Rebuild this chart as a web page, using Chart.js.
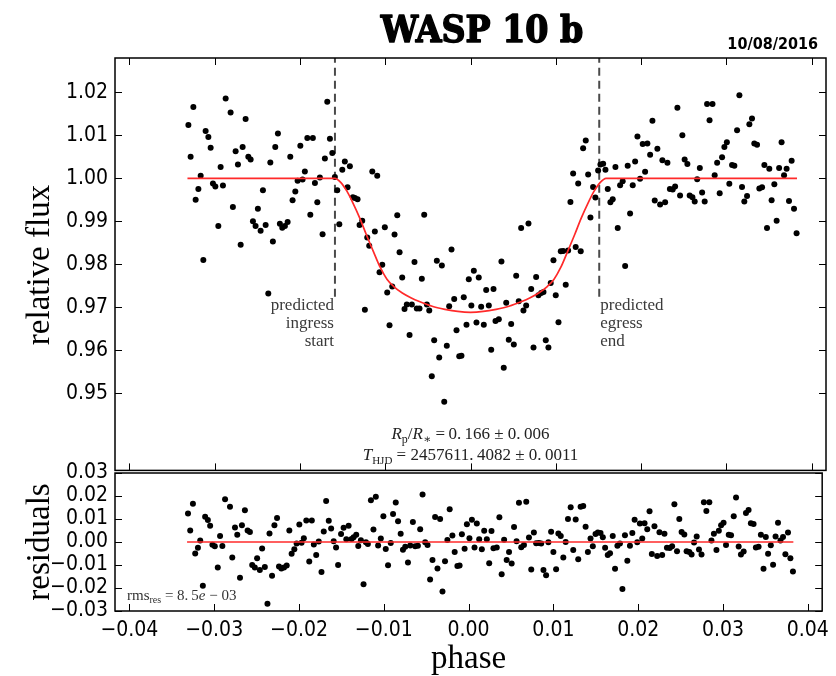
<!DOCTYPE html>
<html>
<head>
<meta charset="utf-8">
<script src="https://cdn.jsdelivr.net/npm/chart.js@4.4.0/dist/chart.umd.min.js"></script>
<style>
  html, body { margin: 0; padding: 0; background: #fff; }
  #wrap { position: relative; width: 836px; height: 676px; overflow: hidden; }
  #fluxChart { position: absolute; left: 0; top: 0; }
  #residChart { position: absolute; left: 0; top: 440px; }
</style>
</head>
<body>
<div id="wrap">
  <canvas id="fluxChart" width="836" height="490"></canvas>
  <canvas id="residChart" width="836" height="236"></canvas>
</div>
<script>
// Daten
const phase = [
  -0.03309, -0.03283, -0.03251, -0.03224, -0.03192, -0.03165, -0.03134, -0.03107, -0.03075, -0.03048,
  -0.03021, -0.02993, -0.02958, -0.02931, -0.02904, -0.02872, -0.02814, -0.02787, -0.02755, -0.02728,
  -0.02696, -0.02673, -0.02638, -0.02606, -0.02579, -0.02552, -0.02521, -0.02494, -0.02462, -0.02435,
  -0.02403, -0.02372, -0.02348, -0.02318, -0.02290, -0.02259, -0.02236, -0.02208, -0.02177, -0.02145,
  -0.02114, -0.02087, -0.02055, -0.02028, -0.01996, -0.01970, -0.01943, -0.01914, -0.01879, -0.01849,
  -0.01825, -0.01797, -0.01767, -0.01735, -0.01708, -0.01680, -0.01649, -0.01621, -0.01591, -0.01563,
  -0.01539, -0.01504, -0.01474, -0.01442, -0.01415, -0.01380, -0.01356, -0.01325, -0.01301, -0.01270,
  -0.01239, -0.01211, -0.01188, -0.01152, -0.01122, -0.01094, -0.01067, -0.01035, -0.01005, -0.00977,
  -0.00950, -0.00918, -0.00891, -0.00859, -0.00832, -0.00801, -0.00774, -0.00747, -0.00715, -0.00688,
  -0.00657, -0.00630, -0.00598, -0.00571, -0.00543, -0.00512, -0.00484, -0.00454, -0.00426, -0.00395,
  -0.00367, -0.00336, -0.00308, -0.00278, -0.00250, -0.00223, -0.00191, -0.00164, -0.00132, -0.00106,
  -0.00079, -0.00047, -0.00020, 0.00010, 0.00039, 0.00070, 0.00097, 0.00125, 0.00156, 0.00184,
  0.00215, 0.00243, 0.00270, 0.00293, 0.00332, 0.00363, 0.00390, 0.00419, 0.00449, 0.00477,
  0.00508, 0.00536, 0.00566, 0.00594, 0.00621, 0.00653, 0.00680, 0.00712, 0.00739, 0.00770,
  0.00797, 0.00829, 0.00856, 0.00883, 0.00914, 0.00941, 0.00973, 0.01000, 0.01032, 0.01059,
  0.01087, 0.01117, 0.01145, 0.01172, 0.01204, 0.01234, 0.01263, 0.01293, 0.01321, 0.01352,
  0.01380, 0.01407, 0.01438, 0.01465, 0.01497, 0.01524, 0.01556, 0.01583, 0.01610, 0.01641,
  0.01668, 0.01700, 0.01727, 0.01755, 0.01785, 0.01814, 0.01844, 0.01872, 0.01903, 0.01931,
  0.01958, 0.01989, 0.02020, 0.02048, 0.02075, 0.02107, 0.02134, 0.02161, 0.02192, 0.02224,
  0.02251, 0.02283, 0.02310, 0.02339, 0.02372, 0.02400, 0.02427, 0.02458, 0.02485, 0.02512,
  0.02544, 0.02571, 0.02603, 0.02630, 0.02659, 0.02690, 0.02717, 0.02747, 0.02775, 0.02804,
  0.02839, 0.02864, 0.02893, 0.02923, 0.02951, 0.02978, 0.03007, 0.03036, 0.03068, 0.03095,
  0.03127, 0.03154, 0.03185, 0.03212, 0.03244, 0.03271, 0.03302, 0.03329, 0.03361, 0.03388,
  0.03420, 0.03447, 0.03478, 0.03505, 0.03532, 0.03564, 0.03591, 0.03620, 0.03649, 0.03678,
  0.03708, 0.03736, 0.03767, 0.03795, 0.03825
];

const flux = [
  1.0124, 1.0050, 1.0166, 0.9950, 0.9975, 1.0006, 0.9810, 1.0110, 1.0096, 1.0071,
  0.9988, 0.9981, 0.9889, 1.0026, 0.9983, 1.0186, 1.0153, 0.9933, 1.0063, 1.0032,
  0.9845, 1.0073, 1.0138, 1.0050, 1.0044, 0.9900, 0.9889, 0.9929, 0.9878, 0.9972,
  0.9891, 0.9732, 1.0037, 0.9853, 1.0073, 1.0104, 0.9894, 0.9885, 0.9889, 0.9898,
  1.0050, 0.9949, 0.9969, 0.9994, 1.0076, 0.9997, 1.0016, 1.0094, 0.9915, 1.0094,
  0.9989, 0.9944, 1.0002, 0.9870, 1.0046, 1.0178, 1.0092, 1.0059, 1.0003, 0.9972,
  0.9893, 1.0020, 1.0039, 0.9979, 1.0028, 0.9956, 0.9954, 0.9951, 0.9891, 0.9901,
  0.9694, 0.9862, 0.9843, 1.0016, 0.9876, 1.0006, 0.9781, 0.9799, 0.9886, 0.9734,
  0.9658, 0.9748, 0.9869, 0.9914, 0.9828, 0.9769, 0.9696, 0.9706, 0.9635, 0.9706,
  0.9805, 0.9697, 0.9697, 0.9766, 0.9915, 0.9706, 0.9692, 0.9539, 0.9623, 0.9808,
  0.9583, 0.9797, 0.9480, 0.9610, 0.9702, 0.9834, 0.9719, 0.9646, 0.9586, 0.9587,
  0.9723, 0.9659, 0.9765, 0.9704, 0.9785, 0.9664, 0.9769, 0.9701, 0.9659, 0.9740,
  0.9704, 0.9601, 0.9742, 0.9668, 0.9672, 0.9806, 0.9559, 0.9710, 0.9624, 0.9661,
  0.9613, 0.9773, 0.9714, 0.9884, 0.9692, 0.9704, 0.9895, 0.9742, 0.9606, 0.9770,
  0.9728, 0.9733, 0.9735, 0.9623, 0.9606, 0.9756, 0.9809, 0.9728, 0.9665, 0.9830,
  0.9831, 0.9752, 0.9832, 0.9945, 1.0011, 0.9840, 0.9988, 0.9830, 1.0070, 1.0088,
  1.0009, 0.9909, 0.9980, 0.9955, 1.0018, 1.0032, 1.0034, 1.0020, 0.9975, 0.9944,
  0.9951, 1.0026, 0.9884, 0.9984, 0.9993, 0.9796, 1.0029, 0.9918, 0.9984, 1.0039,
  1.0097, 0.9999, 1.0080, 1.0015, 1.0081, 1.0055, 1.0134, 0.9948, 1.0069, 0.9939,
  1.0042, 0.9944, 1.0036, 0.9975, 0.9974, 0.9981, 1.0164, 0.9960, 1.0100, 1.0044,
  1.0033, 0.9960, 0.9956, 0.9946, 0.9998, 1.0024, 0.9967, 0.9946, 1.0173, 1.0135,
  1.0173, 1.0007, 1.0036, 0.9965, 1.0049, 1.0073, 1.0084, 0.9987, 1.0031, 1.0029,
  1.0112, 1.0193, 0.9980, 0.9946, 0.9959, 1.0126, 1.0139, 1.0081, 1.0078, 0.9976,
  0.9979, 1.0031, 0.9884, 1.0022, 0.9949, 0.9986, 0.9901, 1.0024, 1.0084, 1.0007,
  1.0022, 0.9947, 1.0041, 0.9929, 0.9872
];

const residuals = [
  0.0124, 0.0050, 0.0166, -0.0050, -0.0025, 0.0006, -0.0190, 0.0110, 0.0096, 0.0071,
  -0.0012, -0.0019, -0.0111, 0.0026, -0.0017, 0.0186, 0.0153, -0.0067, 0.0063, 0.0032,
  -0.0155, 0.0073, 0.0138, 0.0050, 0.0044, -0.0100, -0.0111, -0.0071, -0.0122, -0.0028,
  -0.0109, -0.0268, 0.0037, -0.0147, 0.0073, 0.0104, -0.0106, -0.0115, -0.0111, -0.0102,
  0.0050, -0.0051, -0.0031, -0.0006, 0.0076, -0.0003, 0.0016, 0.0094, -0.0085, 0.0094,
  -0.0011, -0.0056, 0.0002, -0.0130, 0.0046, 0.0178, 0.0092, 0.0059, 0.0003, -0.0024,
  -0.0100, 0.0035, 0.0062, 0.0012, 0.0071, 0.0013, 0.0021, 0.0032, -0.0017, 0.0008,
  -0.0184, -0.0001, -0.0009, 0.0181, 0.0054, 0.0197, -0.0015, 0.0015, 0.0112, -0.0030,
  -0.0101, -0.0004, 0.0122, 0.0172, 0.0090, 0.0036, -0.0034, -0.0021, -0.0089, -0.0015,
  0.0087, -0.0019, -0.0016, 0.0055, 0.0206, -0.0001, -0.0013, -0.0163, -0.0078, 0.0109,
  -0.0115, 0.0100, -0.0215, -0.0084, 0.0009, 0.0142, 0.0028, -0.0044, -0.0104, -0.0102,
  0.0034, -0.0029, 0.0077, 0.0016, 0.0097, -0.0024, 0.0080, 0.0012, -0.0031, 0.0049,
  0.0012, -0.0092, 0.0048, -0.0027, -0.0024, 0.0108, -0.0140, 0.0010, -0.0078, -0.0043,
  -0.0093, 0.0065, 0.0003, 0.0171, -0.0023, -0.0013, 0.0175, 0.0020, -0.0120, 0.0041,
  -0.0005, -0.0004, -0.0006, -0.0122, -0.0145, -0.0001, 0.0045, -0.0044, -0.0118, 0.0037,
  0.0026, -0.0067, 0.0000, 0.0100, 0.0151, -0.0035, 0.0098, -0.0075, 0.0153, 0.0157,
  0.0066, -0.0044, 0.0015, -0.0019, 0.0035, 0.0041, 0.0039, 0.0021, -0.0025, -0.0056,
  -0.0049, 0.0026, -0.0116, -0.0016, -0.0007, -0.0204, 0.0029, -0.0082, -0.0016, 0.0039,
  0.0097, -0.0001, 0.0080, 0.0015, 0.0081, 0.0055, 0.0134, -0.0052, 0.0069, -0.0061,
  0.0042, -0.0056, 0.0036, -0.0025, -0.0026, -0.0019, 0.0164, -0.0040, 0.0100, 0.0044,
  0.0033, -0.0040, -0.0044, -0.0054, -0.0002, 0.0024, -0.0033, -0.0054, 0.0173, 0.0135,
  0.0173, 0.0007, 0.0036, -0.0035, 0.0049, 0.0073, 0.0084, -0.0013, 0.0031, 0.0029,
  0.0112, 0.0193, -0.0020, -0.0054, -0.0041, 0.0126, 0.0139, 0.0081, 0.0078, -0.0024,
  -0.0021, 0.0031, -0.0116, 0.0022, -0.0051, -0.0014, -0.0099, 0.0024, 0.0084, 0.0007,
  0.0022, -0.0053, 0.0041, -0.0071, -0.0128
];

// Modellkurve (rot)
const modelPhase = [
  -0.0332, -0.0159, -0.0152, -0.0145, -0.0138, -0.0130, -0.0122, -0.0114, -0.0106, -0.0098,
  -0.0090, -0.0080, -0.0070, -0.0060, -0.0045, -0.0030, -0.0015, 0.0, 0.0015, 0.0030,
  0.0045, 0.0060, 0.0070, 0.0080, 0.0090, 0.0098, 0.0106, 0.0114, 0.0122, 0.0130,
  0.0138, 0.0145, 0.0152, 0.0159, 0.0383
];
const modelFlux = [
  1.0, 1.0, 0.9990, 0.9970, 0.9943, 0.9908, 0.9868, 0.9830, 0.9793, 0.9765,
  0.9748, 0.9733, 0.9722, 0.9713, 0.9702, 0.9695, 0.9690, 0.9688, 0.9690, 0.9695,
  0.9702, 0.9713, 0.9722, 0.9733, 0.9748, 0.9765, 0.9793, 0.9830, 0.9868, 0.9908,
  0.9943, 0.9970, 0.9990, 1.0, 1.0
];
const residLinePhase = [-0.0332, 0.0383];
const residLineValue = [0.0, 0.0];

// vorhergesagte Ein-/Austrittszeiten
const ingressPhase = -0.0159;
const egressPhase = 0.0151;
const markerFlux = [0.9724, 1.0300];

// Achsen
const xRange = [-0.0417, 0.0417];
const xTicks = [-0.04, -0.03, -0.02, -0.01, 0.0, 0.01, 0.02, 0.03, 0.04];
const fluxRange = [0.932, 1.028];
const fluxTicks = [0.95, 0.96, 0.97, 0.98, 0.99, 1.00, 1.01, 1.02];
const residRange = [-0.03, 0.03];
const residTicks = [-0.03, -0.02, -0.01, 0.0, 0.01, 0.02, 0.03];

const tickFont = { family: '"DejaVu Sans Condensed", "DejaVu Sans", sans-serif', size: 21 };
const serif = '"Liberation Serif", "DejaVu Serif", serif';

function fmt(v) {
  return (v < 0 ? '\u2212' : '') + Math.abs(v).toFixed(2);
}

// Text mit Hoch-/Tiefstellungen zeichnen
function drawRich(ctx, parts, x, y, align) {
  let total = 0;
  parts.forEach(p => {
    ctx.font = p.font;
    p.w = ctx.measureText(p.text).width;
    total += p.w;
  });
  let cx = align === 'center' ? x - total / 2 : x;
  ctx.textAlign = 'left';
  ctx.textBaseline = 'alphabetic';
  parts.forEach(p => {
    ctx.font = p.font;
    ctx.fillText(p.text, cx, y + (p.dy || 0));
    cx += p.w;
  });
}

// Rahmen und nach innen zeigende Ticks
function drawFrame(chart, sides) {
  const ctx = chart.ctx;
  const a = chart.chartArea;
  const xs = chart.scales.x, ys = chart.scales.y;
  const yt = chart.config.options.scales.y.tickValues;
  ctx.save();
  ctx.strokeStyle = '#000';
  ctx.lineWidth = 1;
  ctx.beginPath();
  xTicks.forEach(v => {
    const px = Math.round(xs.getPixelForValue(v)) + 0.5;
    if (sides.top) { ctx.moveTo(px, a.top); ctx.lineTo(px, a.top + 7); }
    if (sides.bottom) { ctx.moveTo(px, a.bottom); ctx.lineTo(px, a.bottom - 7); }
  });
  yt.forEach(v => {
    const py = Math.round(ys.getPixelForValue(v)) + 0.5;
    ctx.moveTo(a.left, py); ctx.lineTo(a.left + 7, py);
    ctx.moveTo(a.right, py); ctx.lineTo(a.right - 7, py);
  });
  ctx.stroke();
  ctx.lineWidth = 1.5;
  ctx.strokeRect(a.left, a.top, a.right - a.left, a.bottom - a.top);
  ctx.restore();
}

const fluxDecor = {
  id: 'fluxDecor',
  afterDraw(chart) {
    const ctx = chart.ctx;
    const xs = chart.scales.x, ys = chart.scales.y;
    drawFrame(chart, { top: true, bottom: true });
    ctx.save();
    // Titel und Datum
    ctx.fillStyle = '#000';
    ctx.strokeStyle = '#000';
    ctx.lineWidth = 1.4;
    ctx.lineJoin = 'round';
    ctx.textAlign = 'center';
    ctx.textBaseline = 'alphabetic';
    ctx.font = 'bold 37px "DejaVu Serif Condensed", "DejaVu Serif", serif';
    ctx.fillText('WASP 10 b', 482, 42);
    ctx.strokeText('WASP 10 b', 482, 42);
    ctx.textAlign = 'right';
    ctx.font = 'bold 16px "DejaVu Sans Condensed", "DejaVu Sans", sans-serif';
    ctx.fillText('10/08/2016', 818, 49);
    // y-Achsentitel
    ctx.save();
    ctx.translate(40, 265);
    ctx.rotate(-Math.PI / 2);
    ctx.textAlign = 'center';
    ctx.textBaseline = 'middle';
    ctx.font = '33px ' + serif;
    ctx.fillText('relative flux', 0, 0);
    ctx.restore();
    // Beschriftung der Markierungen
    ctx.fillStyle = '#3a3a3a';
    ctx.font = '17px ' + serif;
    ctx.textBaseline = 'middle';
    const xi = xs.getPixelForValue(ingressPhase);
    const xe = xs.getPixelForValue(egressPhase);
    const yb = ys.getPixelForValue(markerFlux[0]);
    ctx.textAlign = 'right';
    ['predicted', 'ingress', 'start'].forEach((t, i) => ctx.fillText(t, xi - 1, yb + 9 + i * 18));
    ctx.textAlign = 'left';
    ['predicted', 'egress', 'end'].forEach((t, i) => ctx.fillText(t, xe + 1, yb + 9 + i * 18));
    // Fit-Ergebnisse
    ctx.fillStyle = '#222';
    const cx = xs.getPixelForValue(0);
    const base = '17px ' + serif, ital = 'italic 17px ' + serif, small = '12px ' + serif;
    drawRich(ctx, [
      { text: 'R', font: ital },
      { text: 'p', font: small, dy: 4 },
      { text: '/', font: base },
      { text: 'R', font: ital },
      { text: '\u2217', font: small, dy: 4 },
      { text: ' =\u20090.\u2009166 \u00b1 0.\u2009006', font: base }
    ], cx, 439, 'center');
    drawRich(ctx, [
      { text: 'T', font: ital },
      { text: 'HJD', font: '11px ' + serif, dy: 4 },
      { text: ' = 2457611.\u20094082 \u00b1 0.\u20090011', font: base }
    ], cx, 460, 'center');
    ctx.restore();
  }
};

const residDecor = {
  id: 'residDecor',
  afterDraw(chart) {
    const ctx = chart.ctx;
    const a = chart.chartArea;
    drawFrame(chart, { top: false, bottom: true });
    ctx.save();
    ctx.fillStyle = '#000';
    ctx.save();
    ctx.translate(40, (a.top + a.bottom) / 2);
    ctx.rotate(-Math.PI / 2);
    ctx.textAlign = 'center';
    ctx.textBaseline = 'middle';
    ctx.font = '33px ' + serif;
    ctx.fillText('residuals', 0, 0);
    ctx.restore();
    ctx.textAlign = 'center';
    ctx.textBaseline = 'alphabetic';
    ctx.font = '33px ' + serif;
    ctx.fillText('phase', (a.left + a.right) / 2, 228);
    ctx.fillStyle = '#333';
    drawRich(ctx, [
      { text: 'rms', font: '15px ' + serif },
      { text: 'res', font: '10px ' + serif, dy: 3 },
      { text: ' = 8.\u20095', font: '15px ' + serif },
      { text: 'e', font: 'italic 15px ' + serif },
      { text: ' \u2212 03', font: '15px ' + serif }
    ], a.left + 12, a.bottom - 11, 'left');
    ctx.restore();
  }
};

function xScaleOpts(showLabels, height) {
  return {
    type: 'linear',
    min: xRange[0], max: xRange[1],
    grid: { display: false, drawTicks: false },
    border: { display: false },
    ticks: { display: showLabels, font: tickFont, color: '#000', padding: 7, maxRotation: 0, autoSkip: false, callback: v => fmt(v) },
    afterBuildTicks: s => { s.ticks = xTicks.map(v => ({ value: v })); },
    afterFit: s => { s.height = height; }
  };
}

function yScaleOpts(range, ticks) {
  return {
    type: 'linear',
    min: range[0], max: range[1],
    tickValues: ticks,
    grid: { display: false, drawTicks: false },
    border: { display: false },
    ticks: { font: tickFont, color: '#000', padding: 7, autoSkip: false, callback: v => fmt(v) },
    afterBuildTicks: s => { s.ticks = ticks.map(v => ({ value: v })); },
    afterFit: s => { s.width = 115; }
  };
}

const fluxPoints = phase.map((p, i) => ({ x: p, y: flux[i] }));
const residPoints = phase.map((p, i) => ({ x: p, y: residuals[i] }));
const modelPoints = modelPhase.map((p, i) => ({ x: p, y: modelFlux[i] }));
const residLine = residLinePhase.map((p, i) => ({ x: p, y: residLineValue[i] }));

const dashStyle = { type: 'line', borderColor: '#4a4a4a', borderWidth: 2, borderDash: [8, 5], pointRadius: 0, fill: false, order: 3 };

new Chart(document.getElementById('fluxChart'), {
  type: 'scatter',
  data: {
    datasets: [
      Object.assign({ data: [{ x: ingressPhase, y: markerFlux[0] }, { x: ingressPhase, y: markerFlux[1] }] }, dashStyle),
      Object.assign({ data: [{ x: egressPhase, y: markerFlux[0] }, { x: egressPhase, y: markerFlux[1] }] }, dashStyle),
      { data: fluxPoints, pointRadius: 3, pointBackgroundColor: '#000', pointBorderWidth: 0, order: 2 },
      { type: 'line', data: modelPoints, borderColor: '#ff2a2a', borderWidth: 1.7, pointRadius: 0, fill: false, cubicInterpolationMode: 'monotone', order: 1 }
    ]
  },
  options: {
    responsive: false,
    animation: false,
    events: [],
    layout: { padding: { top: 58, right: 10, left: 0, bottom: 0 } },
    plugins: { legend: { display: false }, tooltip: { enabled: false } },
    scales: {
      x: xScaleOpts(false, 17),
      y: yScaleOpts(fluxRange, fluxTicks)
    }
  },
  plugins: [fluxDecor]
});

new Chart(document.getElementById('residChart'), {
  type: 'scatter',
  data: {
    datasets: [
      { data: residPoints, pointRadius: 3, pointBackgroundColor: '#000', pointBorderWidth: 0, order: 2 },
      { type: 'line', data: residLine, borderColor: '#ff2a2a', borderWidth: 1.7, pointRadius: 0, fill: false, order: 1 }
    ]
  },
  options: {
    responsive: false,
    animation: false,
    events: [],
    layout: { padding: { top: 33, right: 10, left: 0, bottom: 0 } },
    plugins: { legend: { display: false }, tooltip: { enabled: false } },
    scales: {
      x: xScaleOpts(true, 65),
      y: yScaleOpts(residRange, residTicks)
    }
  },
  plugins: [residDecor]
});
</script>
</body>
</html>
